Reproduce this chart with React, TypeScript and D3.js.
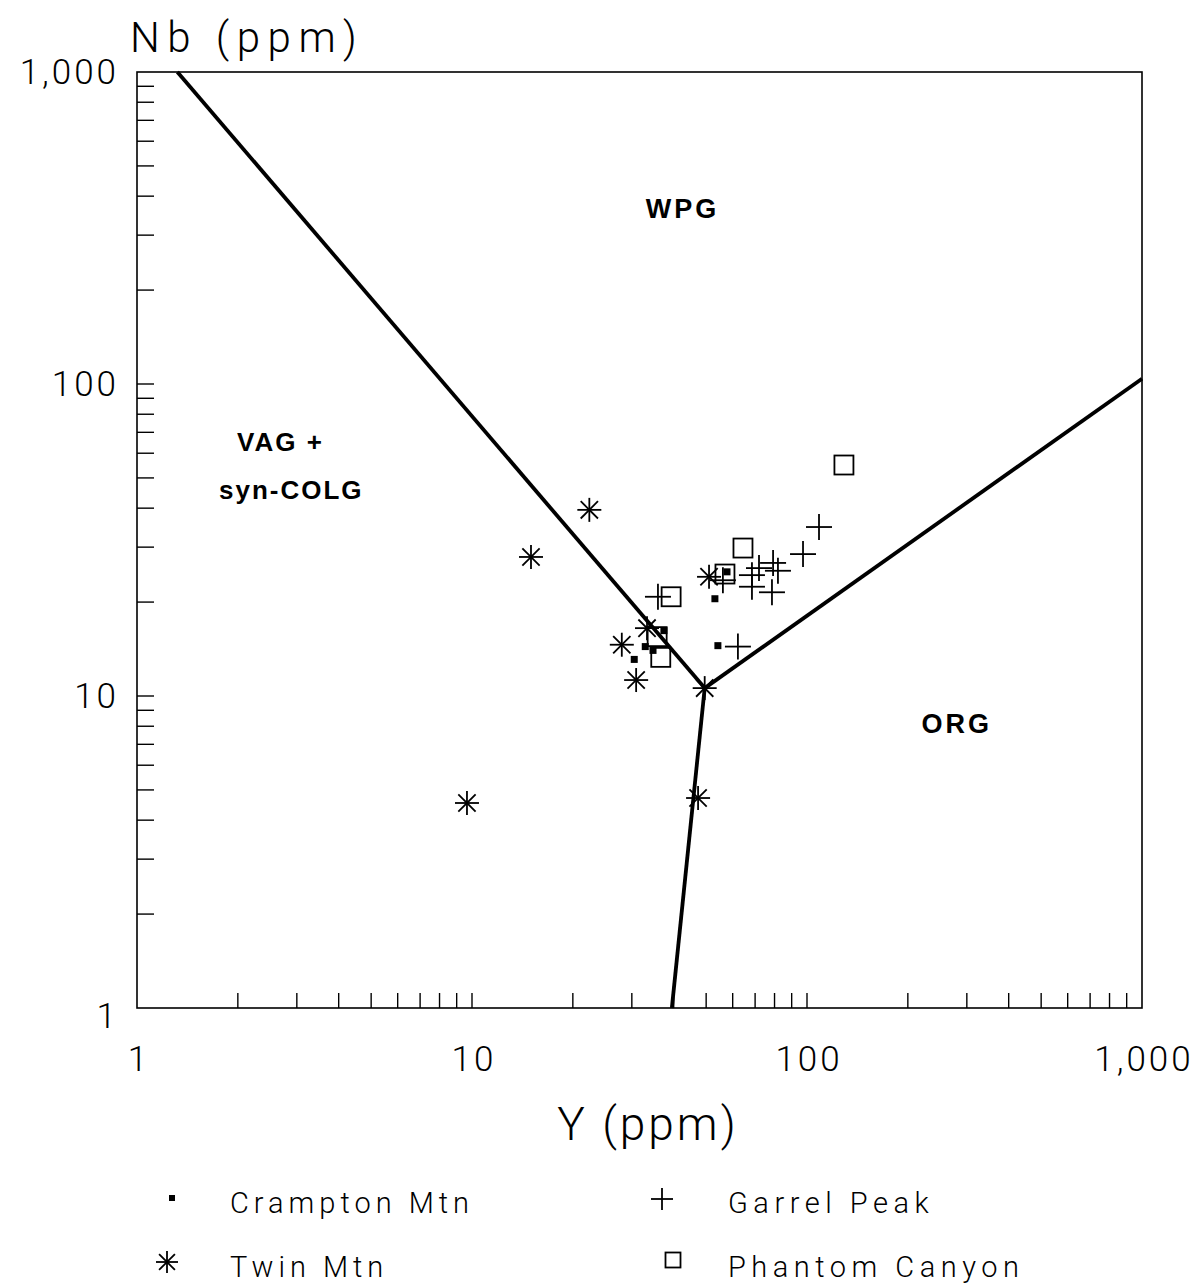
import React from "react";
import * as d3 from "d3";

// Y (ppm), Nb (ppm) pairs for each locality
const cramptonMtn: [number, number][] = [
  [53.1, 20.5],
  [54.2, 14.5],
  [37.4, 16.2],
  [32.9, 14.4],
  [30.5, 13.1],
  [34.7, 14.0],
  [57.7, 25.0],
];

const twinMtn: [number, number][] = [
  [9.66, 4.54],
  [15.0, 27.9],
  [22.4, 39.5],
  [28.0, 14.6],
  [33.3, 16.5],
  [30.9, 11.25],
  [49.5, 10.6],
  [47.3, 4.71],
  [51.0, 24.1],
];

const garrelPeak: [number, number][] = [
  [108.6, 34.8],
  [97.3, 28.5],
  [79.2, 26.7],
  [81.9, 25.2],
  [71.9, 25.7],
  [68.5, 24.4],
  [68.5, 22.4],
  [78.6, 21.5],
  [56.1, 23.5],
  [62.2, 14.4],
  [35.9, 20.8],
];

const phantomCanyon: [number, number][] = [
  [128.9, 55.0],
  [64.4, 29.8],
  [56.9, 24.6],
  [39.3, 20.8],
  [36.6, 13.3],
  [35.7, 15.5],
];

// Tectonic discrimination boundaries
const boundaryWpgVag: [number, number][] = [
  [1.32, 1000],
  [49.5, 10.6],
];
const boundaryWpgOrg: [number, number][] = [
  [49.5, 10.6],
  [1000, 104],
];
const boundaryVagOrg: [number, number][] = [
  [49.5, 10.6],
  [39.5, 1],
];

const majorTicks = [1, 10, 100, 1000];
const tickLabels = ["1", "10", "100", "1,000"];

// Region names placed at (Y, Nb) positions inside each field
const regionLabels = [
  { text: "WPG", y: 42.5, nb: 340 },
  { text: "ORG", y: 280, nb: 7.6 },
];

const W = 1197;
const H = 1284;

const x = d3.scaleLog().domain([1, 1000]).range([137, 1142]);
const y = d3.scaleLog().domain([1, 1000]).range([1008, 72]);

const line = d3
  .line<[number, number]>()
  .x((d) => x(d[0]))
  .y((d) => y(d[1]));

const minorTicks: number[] = [];
for (const p of [1, 10, 100]) {
  for (let k = 2; k <= 9; k++) minorTicks.push(k * p);
}
minorTicks.push(10, 100);

const thin = "Roboto, 'Liberation Sans', sans-serif";
const bold = "'Liberation Sans', Arial, sans-serif";

function Asterisk({ cx, cy, r = 12 }: { cx: number; cy: number; r?: number }) {
  const d = r * 0.72;
  return (
    <g stroke="#000" strokeWidth={1.8}>
      <line x1={cx - r} y1={cy} x2={cx + r} y2={cy} />
      <line x1={cx} y1={cy - r} x2={cx} y2={cy + r} />
      <line x1={cx - d} y1={cy - d} x2={cx + d} y2={cy + d} />
      <line x1={cx - d} y1={cy + d} x2={cx + d} y2={cy - d} />
    </g>
  );
}

function Cross({ cx, cy, r = 13 }: { cx: number; cy: number; r?: number }) {
  return (
    <g stroke="#000" strokeWidth={1.8}>
      <line x1={cx - r} y1={cy} x2={cx + r} y2={cy} />
      <line x1={cx} y1={cy - r} x2={cx} y2={cy + r} />
    </g>
  );
}

function OpenSquare({ cx, cy, s = 19 }: { cx: number; cy: number; s?: number }) {
  return (
    <rect
      x={cx - s / 2}
      y={cy - s / 2}
      width={s}
      height={s}
      fill="none"
      stroke="#000"
      strokeWidth={1.8}
    />
  );
}

function Dot({ cx, cy, s = 7 }: { cx: number; cy: number; s?: number }) {
  return <rect x={cx - s / 2} y={cy - s / 2} width={s} height={s} fill="#000" />;
}

export default function App() {
  return (
    <svg
      width={W}
      height={H}
      style={{ position: "absolute", left: 0, top: 0, background: "#fff" }}
    >
      <rect width={W} height={H} fill="#fff" />

      {/* frame */}
      <rect
        x={x(1)}
        y={y(1000)}
        width={x(1000) - x(1)}
        height={y(1) - y(1000)}
        fill="none"
        stroke="#000"
        strokeWidth={1.6}
      />

      {/* y-axis ticks, drawn inward */}
      {minorTicks.map((t, i) => (
        <line
          key={"yt" + i}
          x1={x(1)}
          x2={x(1) + 17}
          y1={y(t)}
          y2={y(t)}
          stroke="#000"
          strokeWidth={1.4}
        />
      ))}
      {/* x-axis ticks, drawn inward */}
      {minorTicks.map((t, i) => (
        <line
          key={"xt" + i}
          x1={x(t)}
          x2={x(t)}
          y1={y(1)}
          y2={y(1) - 15}
          stroke="#000"
          strokeWidth={1.4}
        />
      ))}

      {/* tick labels */}
      {majorTicks.map((t, i) => (
        <text
          key={"yl" + i}
          x={119}
          y={y(t) + (t === 1 ? 20 : 12)}
          textAnchor="end"
          fontFamily={thin}
          fontWeight={300}
          fontSize={35}
          letterSpacing={3}
        >
          {tickLabels[i]}
        </text>
      ))}
      {majorTicks.map((t, i) => (
        <text
          key={"xl" + i}
          x={x(t) + 2}
          y={1071}
          textAnchor="middle"
          fontFamily={thin}
          fontWeight={300}
          fontSize={35}
          letterSpacing={3}
        >
          {tickLabels[i]}
        </text>
      ))}

      {/* axis titles */}
      <text
        x={130}
        y={52}
        fontFamily={thin}
        fontWeight={300}
        fontSize={42}
        letterSpacing={7.5}
      >
        Nb (ppm)
      </text>
      <text
        x={648}
        y={1140}
        textAnchor="middle"
        fontFamily={thin}
        fontWeight={300}
        fontSize={46}
        letterSpacing={3}
      >
        Y (ppm)
      </text>

      {/* boundaries */}
      {[boundaryWpgVag, boundaryWpgOrg, boundaryVagOrg].map((b, i) => (
        <path
          key={"b" + i}
          d={line(b) || ""}
          fill="none"
          stroke="#000"
          strokeWidth={3.8}
        />
      ))}

      {/* region names */}
      {regionLabels.map((r, i) => (
        <text
          key={"r" + i}
          x={x(r.y)}
          y={y(r.nb)}
          textAnchor="middle"
          fontFamily={bold}
          fontWeight={700}
          fontSize={27}
          letterSpacing={3}
        >
          {r.text}
        </text>
      ))}
      <text
        x={237}
        y={451}
        fontFamily={bold}
        fontWeight={700}
        fontSize={26}
        letterSpacing={2}
      >
        VAG +
      </text>
      <text
        x={219}
        y={499}
        fontFamily={bold}
        fontWeight={700}
        fontSize={26}
        letterSpacing={2}
      >
        syn-COLG
      </text>

      {/* data */}
      {phantomCanyon.map((d, i) => (
        <OpenSquare key={"pc" + i} cx={x(d[0])} cy={y(d[1])} />
      ))}
      {garrelPeak.map((d, i) => (
        <Cross key={"gp" + i} cx={x(d[0])} cy={y(d[1])} />
      ))}
      {twinMtn.map((d, i) => (
        <Asterisk key={"tm" + i} cx={x(d[0])} cy={y(d[1])} />
      ))}
      {cramptonMtn.map((d, i) => (
        <Dot key={"cm" + i} cx={x(d[0])} cy={y(d[1])} />
      ))}

      {/* legend */}
      <Dot cx={172} cy={1198} s={6} />
      <text x={230} y={1213} fontFamily={thin} fontWeight={300} fontSize={29} letterSpacing={5}>
        Crampton Mtn
      </text>
      <Cross cx={662} cy={1199} r={11} />
      <text x={728} y={1213} fontFamily={thin} fontWeight={300} fontSize={29} letterSpacing={5.5}>
        Garrel Peak
      </text>
      <Asterisk cx={167} cy={1262} r={11} />
      <text x={230} y={1277} fontFamily={thin} fontWeight={300} fontSize={29} letterSpacing={5}>
        Twin Mtn
      </text>
      <OpenSquare cx={673} cy={1260} s={15} />
      <text x={728} y={1277} fontFamily={thin} fontWeight={300} fontSize={29} letterSpacing={5.5}>
        Phantom Canyon
      </text>
    </svg>
  );
}
